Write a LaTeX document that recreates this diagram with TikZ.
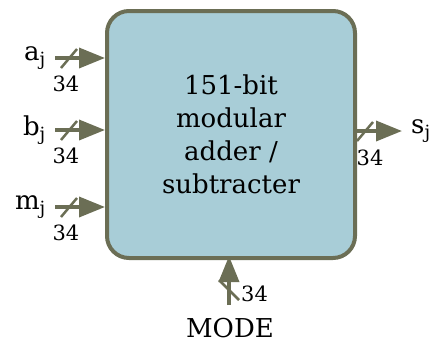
\documentclass[tikz,border=0pt]{standalone}
\usepackage{fontspec}
\setmainfont{DejaVu Serif}
\usetikzlibrary{arrows.meta}
\definecolor{edgec}{HTML}{6B6E55}
\definecolor{fillc}{HTML}{A8CDD7}
\tikzset{
  bus/.style={draw=edgec, line width=3.6pt, -{Triangle[length=26pt,width=20pt]}},
  slash/.style={draw=edgec, line width=2.5pt},
  lbl/.style={font=\fontsize{26}{30}\selectfont, inner sep=0pt},
  num/.style={font=\fontsize{21}{24}\selectfont, inner sep=0pt},
}
\begin{document}
\begin{tikzpicture}[x=1pt,y=-1pt]
\useasboundingbox (0,0) rectangle (433,343);
\node[draw=edgec, fill=fillc, line width=4pt, rounded corners=22pt,
  minimum width=248pt, minimum height=247pt, anchor=north west,
  align=center, font=\fontsize{26}{33}\selectfont] (box) at (105,9)
  {151-bit\\modular\\adder /\\subtracter};
% inputs
\foreach \n/\y/\t in {a/58/a, b/130/b, m/207/m}{
  \coordinate (\n s) at (55,\y);
  \coordinate (\n e) at (105,\y);
  \draw[bus] (\n s) -- (\n e);
  \draw[slash] (61,\y+10) -- (77,\y-9);
  \node[lbl, anchor=east] (\n l) at (46,\y) {\t$_{\mathrm{j}}$};
  \node[num] (\n n) at (66,\y+26) {34};
}
% output
\coordinate (so) at (353,131);
\coordinate (se) at (402,131);
\draw[bus] (so) -- (se);
\draw[slash] (357,141) -- (373,122);
\node[lbl, anchor=west] (sl) at (411,131) {s$_{\mathrm{j}}$};
\node[num] (sn) at (370,158) {34};
% mode
\coordinate (ms) at (229,305);
\coordinate (me) at (229,256);
\draw[bus] (ms) -- (me);
\draw[slash] (219,280) -- (239,300);
\node[num, anchor=west] (mn) at (241,294) {34};
\node[lbl] (mode) at (230,328) {MODE};
\end{tikzpicture}
\end{document}
